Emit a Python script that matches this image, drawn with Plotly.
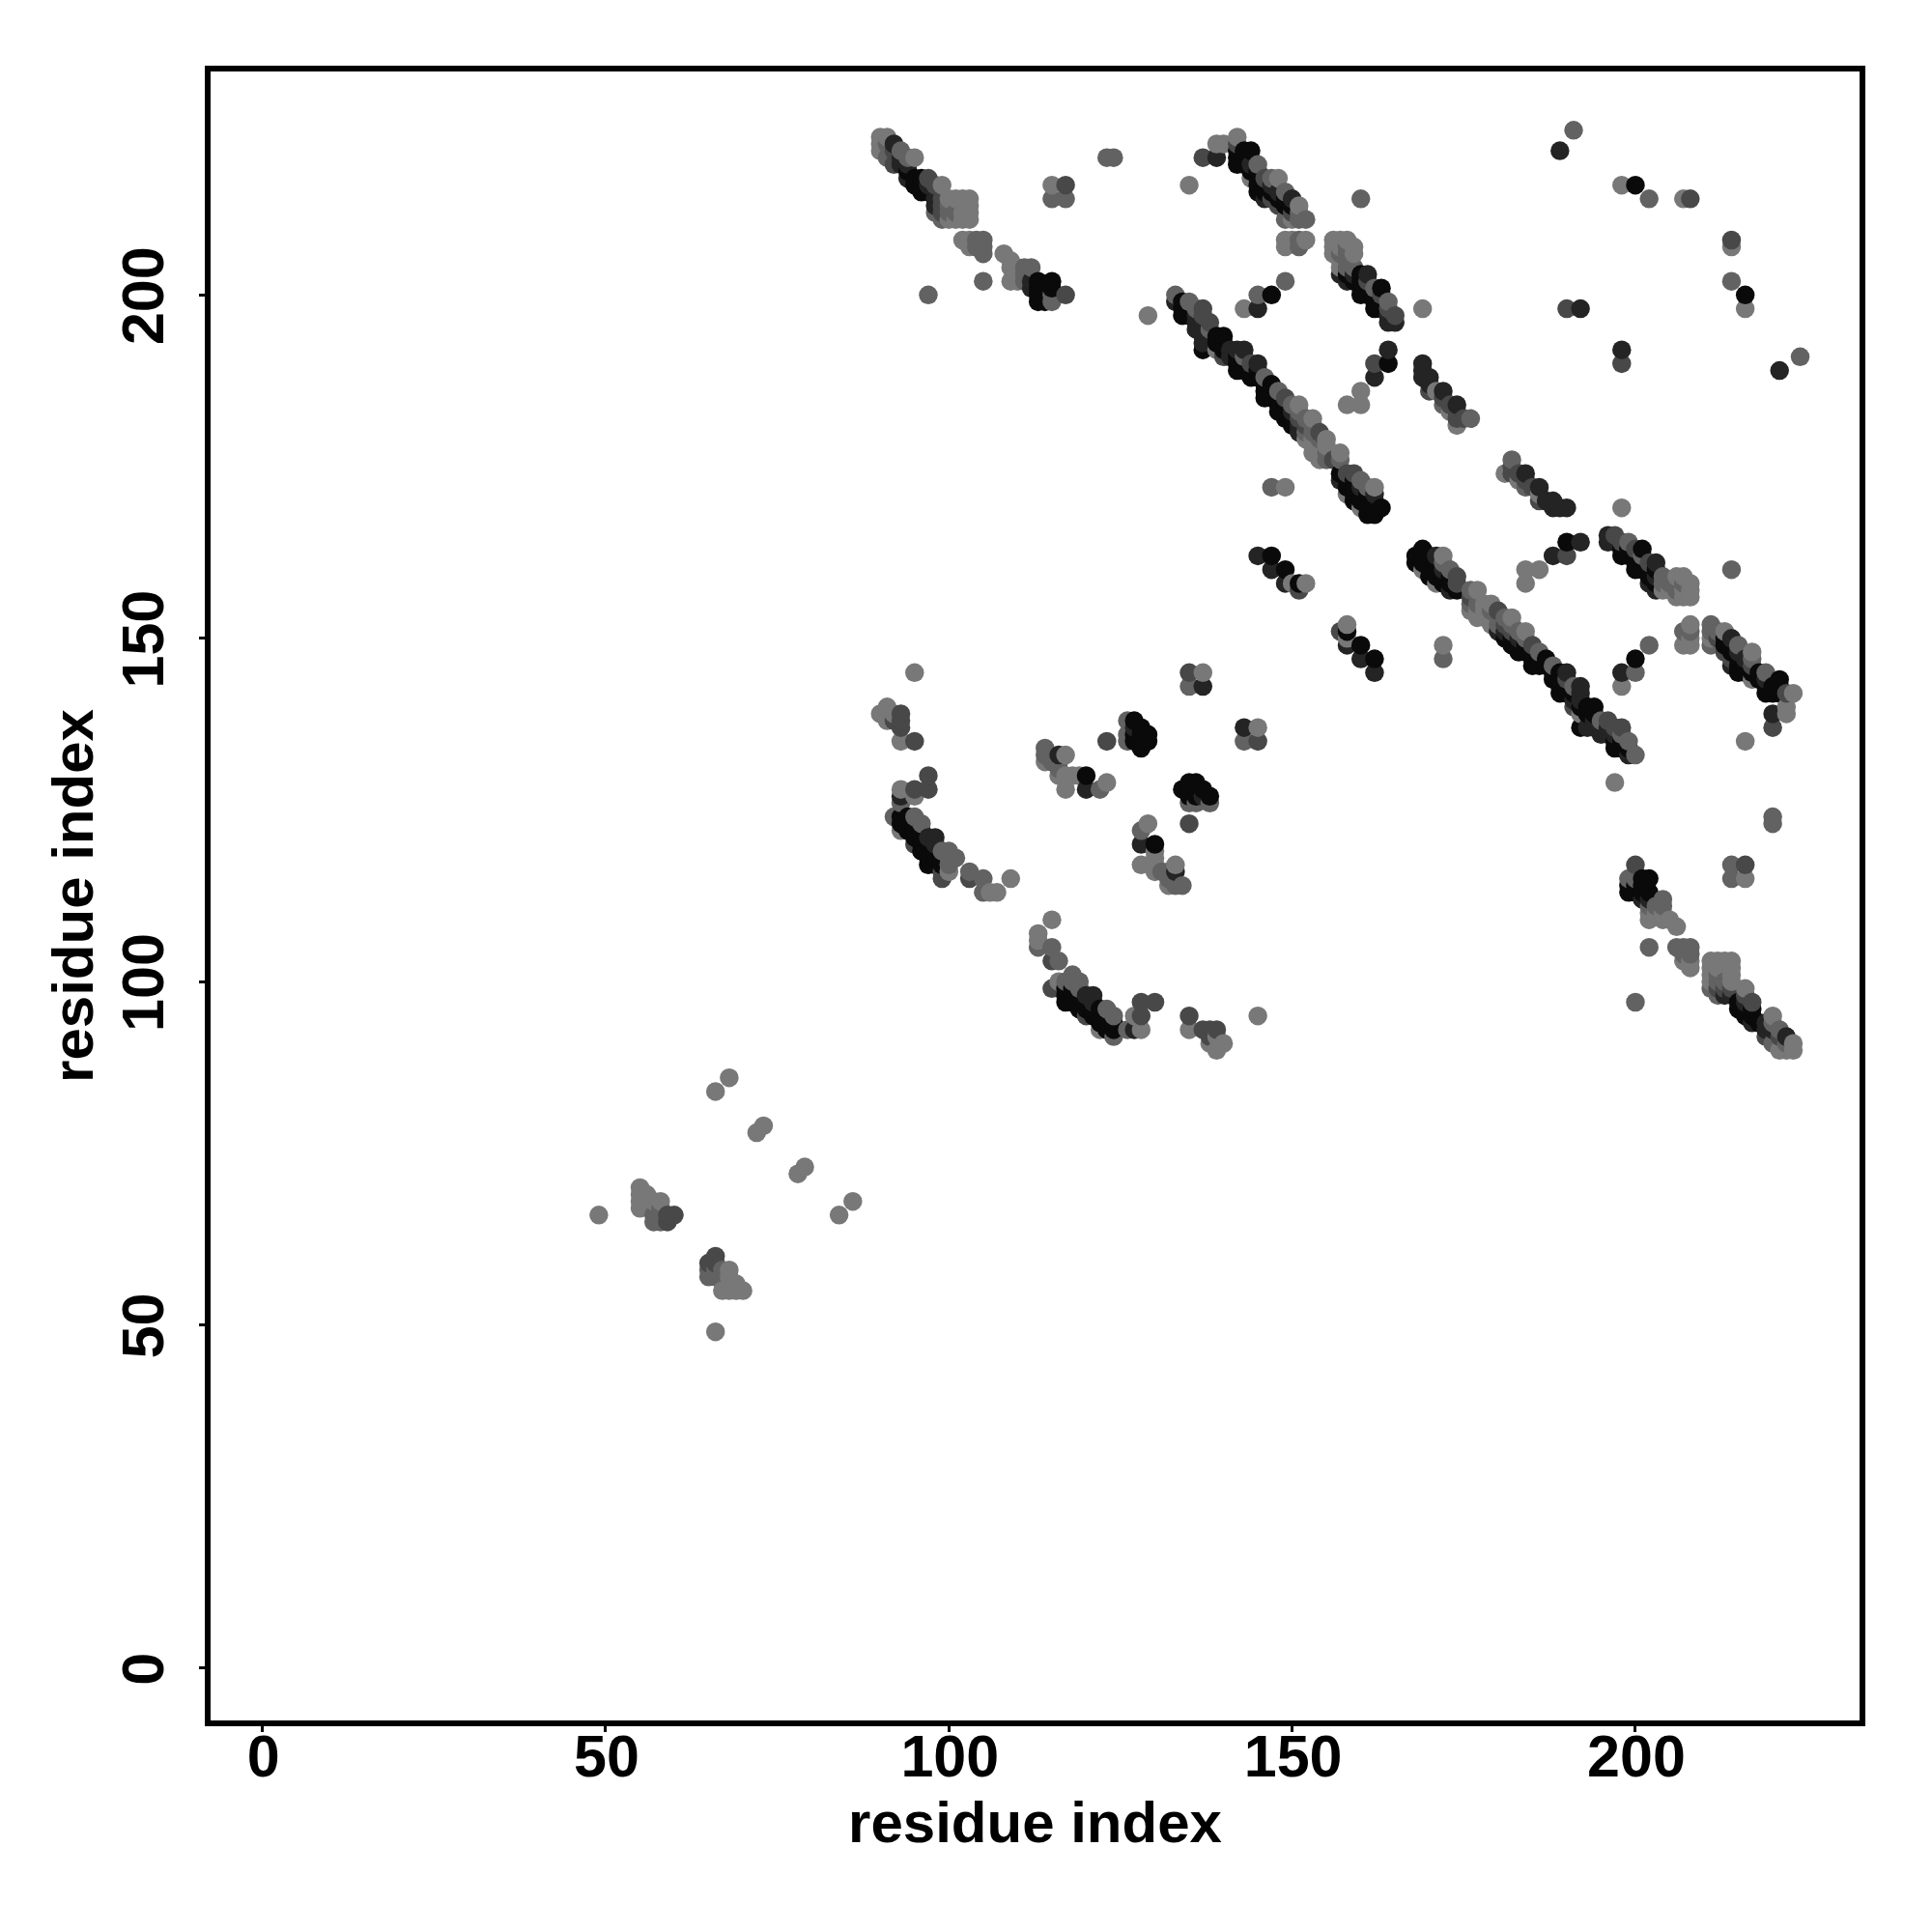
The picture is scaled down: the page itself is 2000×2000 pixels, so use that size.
import plotly.graph_objects as go

# grey levels (contact strength shown as darkness)
L, M, N, D, K = 120, 98, 72, 36, 10

cluster_low = [(49,66,L),(55,70,L),(55,69,L),(55,68,L),(55,67,L),(56,69,L),(57,68,L),(58,68,L),(58,67,M),
    (57,66,M),(57,65,M),(58,65,M),(59,65,N),(59,66,N),(60,66,N),(58,66,M)]
pairs_low = [(66,84,L),(68,86,L),(72,78,L),(73,79,L)]
streak_a = [(90,223,L),(91,223,L),(90,222,L),(90,221,L),(92,222,D),(91,222,M),(91,220,M),(92,219,N),(92,221,N),(93,221,M),
    (93,219,D),(94,220,M),(95,220,L),(94,219,D),(93,220,D),(94,218,K),(94,217,D),(95,217,K),(95,216,K),(96,215,K),(96,217,K),
    (96,216,K),(97,217,N),(97,216,D),(97,215,K),(98,216,N),(98,214,D),(98,213,D),(98,212,M),(99,216,L),(99,214,N),(99,213,N),
    (99,211,M),(99,212,N),(100,214,L),(100,213,M),(100,211,L),(100,212,M),(101,214,L),(101,211,L),(101,212,M),(102,214,L),
    (102,212,L),(102,211,L),(103,214,L),(103,213,L),(103,212,L),(103,211,L)]
streak_a2 = [(102,208,L),(103,208,L),(103,207,L),(104,208,M),(104,207,M),(105,208,M),(105,207,M),(105,206,M),
    (105,202,M),(97,200,M),(108,206,L),(109,205,L),(109,204,L),(110,204,L),(109,202,L),(110,202,L),(110,203,L),(111,204,M),(112,204,M),
    (111,203,M),(111,202,M),(112,201,D),(112,202,D),(113,202,K),(113,199,K),(113,201,K),(113,200,K),(114,199,K),(114,201,K),(114,200,K),
    (115,202,K),(115,201,K),(115,200,M),(115,199,M),(117,200,N)]
isolated_top = [(115,216,L),(117,216,N),(115,214,M),(117,214,M),(123,220,M),(124,220,M),(129,197,L),(135,216,L),
    (160,214,M),(189,221,D),(191,224,M),(198,216,L),(200,216,K),(202,214,M),(207,214,L),(208,214,N),(214,208,N),(214,207,L),
    (214,202,M),(216,200,K),(216,198,L),(190,198,N),(192,198,D),(198,192,D),(198,190,N),(221,189,D),(224,191,M),
    (169,198,L),(220,123,L),(220,124,L)]
streak_b = [(137,220,N),(139,220,D),(139,222,L),(140,222,L),(142,223,L),(142,222,N),(142,221,K),(142,220,K),(142,219,K),(143,221,K),
    (143,220,K),(143,219,K),(144,221,K),(144,219,D),(144,217,L),(144,218,K),(145,219,M),(145,218,K),(145,217,K),(145,216,K),(145,215,K),
    (146,217,N),(146,216,K),(146,215,K),(146,214,D),(147,217,M),(147,216,D),(147,215,K),(147,214,N),(148,217,L),(148,215,D),(148,214,K),
    (148,213,N),(149,215,M),(149,214,K),(149,213,K),(149,211,M),(150,214,D),(150,213,K),(150,212,N),(150,211,L),(151,213,L),(151,212,M),(151,211,M),(152,211,M),
    (149,208,L),(149,207,L),(150,208,L),(151,208,M),(151,207,M),(152,208,L)]
streak_c = [(156,208,L),(156,207,L),(156,206,L),(157,208,L),(157,207,L),(157,206,M),(157,205,L),(157,204,L),(157,203,D),(158,208,L),(158,207,M),
    (158,206,M),(158,205,M),(158,204,M),(158,203,K),(158,202,D),(159,207,L),(159,206,L),(159,204,M),(159,203,D),(159,202,K),(160,203,K),(160,202,K),
    (160,201,K),(160,200,K),(161,203,D),(161,202,N),(161,201,K),(161,200,K),(162,201,M),(162,200,K),(162,199,K),(162,198,K),(163,201,K),(163,200,N),
    (163,199,K),(163,198,K),(164,199,M),(164,198,N),(164,197,D),(164,196,D),(165,197,N),(165,196,D),(196,165,K)]
bridge_n = [(143,198,L),(145,198,D),(145,200,M),(147,200,K),(149,202,M)]
streak_d = [(133,200,M),(133,199,D),(134,199,K),(134,198,K),(134,197,K),(135,199,M),(135,198,K),(135,197,K),(136,198,M),(136,197,D),(136,196,D),(136,195,D),
    (137,198,N),(137,197,N),(137,196,D),(137,195,D),(137,194,D),(137,193,D),(137,192,K),(138,196,N),(138,195,M),(138,194,D),(139,194,K),(139,193,K),(139,192,L),
    (140,194,K),(140,193,K),(140,192,K),(140,191,N),(141,192,D),(141,191,D),(142,192,D),(142,191,K),(142,190,K),(142,189,K),(143,192,D),(143,191,M),(143,190,K),(143,189,K),
    (144,190,N),(144,189,K),(144,188,K),(145,190,D),(145,189,K),(145,188,K),(146,188,M),(146,187,K),(146,186,K),(146,185,K),(147,187,K),(147,186,K),(147,185,K),
    (148,186,M),(148,185,K),(148,184,K),(148,183,K),(149,185,N),(149,184,K),(149,183,K),(149,182,K),(150,184,M),(150,183,D),(150,182,K),(150,181,K),(151,184,L),(151,183,M),
    (151,182,N),(151,181,D),(151,180,D),(152,182,M),(152,181,N),(152,180,M),(152,179,L),(153,182,L),(153,181,M),(153,180,M),(153,179,L),(153,178,L),(153,177,L),
    (154,180,N),(154,179,M),(154,178,L),(154,177,L),(154,176,L),(155,179,L),(155,178,L),(155,177,M),(155,176,M),(156,176,N),(157,177,L),(157,176,M),
    (157,174,K),(157,173,D),(158,174,N),(158,173,K),(158,172,K),(158,171,L),(159,174,N),(159,173,K),(159,172,K),(159,171,K),(159,170,K),(160,173,M),(160,172,D),(160,171,K),
    (160,170,K),(160,169,L),(161,172,M),(161,171,K),(161,170,K),(161,169,K),(161,168,K),(162,172,L),(162,171,D),(162,170,K),(162,169,K),(162,168,K),(163,169,K)]
group_k = [(145,162,D),(147,162,K),(147,160,D),(149,160,K),(149,158,D),(150,158,L),(151,158,K),(151,157,N),(152,158,L),(147,172,M),(149,172,L)]
group_m = [(158,184,L),(160,184,L),(160,186,L),(162,188,D),(162,190,N),(164,190,K),(164,192,D)]
streak_e = [(169,190,D),(169,188,D),(169,189,D),(170,188,D),(170,187,D),(170,186,N),(171,186,L),(172,186,D),(172,185,N),(172,184,M),(173,184,N),(173,183,L),(174,184,D),
    (174,183,N),(174,182,N),(174,181,L),(175,182,N),(176,182,M),(172,149,L),(172,147,M)]
helix_j = [(90,139,L),(91,140,L),(91,138,L),(92,139,L),(92,138,N),(93,139,N),(93,138,N),(93,137,N),(93,135,L),(95,135,N),(95,145,L),
    (93,128,L),(95,128,N),(97,128,N),(97,130,N),(93,127,D),(95,127,L),(93,126,M),(92,124,M),(93,124,K),(93,123,K),(94,124,K),(94,123,K),(93,122,L),(94,122,K),
    (95,124,M),(95,123,K),(95,122,K),(95,121,K),(95,120,N),(96,123,M),(96,122,K),(96,121,K),(96,120,K),(96,119,K),(97,121,D),(97,120,K),(97,119,K),(97,118,K),(97,117,K),
    (98,121,D),(98,120,D),(98,119,K),(98,118,K),(98,117,K),(99,119,M),(99,118,K),(99,117,K),(99,116,N),(99,115,N),(100,119,M),(100,118,M),(100,117,M),(100,116,L),
    (101,118,M),(103,116,M),(103,115,N),(105,115,M),(105,113,M),(106,113,L),(107,113,L),(109,115,L)]
group_p = [(114,134,M),(114,133,M),(114,132,L),(115,132,M),(116,133,D),(116,132,M),(116,131,M),(116,130,L),(117,133,L),(117,130,L),(117,128,L),(118,130,L),(119,130,L),
    (120,130,K),(120,128,D),(122,128,M),(123,129,L),(123,135,N),(126,138,M),(127,138,K),(126,135,M),(126,136,M),(127,135,K),(127,136,K),(127,137,D),(128,134,K),(128,135,K),(128,136,K),(128,137,K),
    (129,136,K),(129,135,K),(135,145,N),(137,145,L),(135,143,M),(137,143,D),(134,128,K),(135,129,D),(136,129,K),(135,127,D),(136,127,K),(135,128,K),(136,128,K),(138,127,D),
    (135,126,M),(136,126,M),(138,126,N),(135,123,N),(129,123,L),(128,122,L),(128,120,D),(130,120,K),(128,117,L),(130,118,L),(130,117,M),(130,116,M),(131,116,L),(133,117,M),
    (133,116,D),(132,114,L),(133,114,M),(134,114,N)]
helix_q = [(115,105,N)]

streaks = [cluster_low, pairs_low, streak_a, streak_a2, isolated_top, streak_b, streak_c, bridge_n,
           streak_d, group_k, group_m, streak_e, helix_j, group_p, helix_q]

tick_values = [0, 50, 100, 150, 200]
axis_title = "residue index"

seen = {}
for streak in streaks:
    for i, j, grey in streak:
        seen.setdefault((i, j), grey)
        seen.setdefault((j, i), grey)
ordered = sorted(seen)
xs = [p[0] for p in ordered]
ys = [p[1] for p in ordered]
greys = [seen[p] for p in ordered]

fig = go.Figure(go.Scatter(
    x=xs, y=ys, mode="markers", cliponaxis=False,
    marker=dict(size=19.5, color=greys, cmin=0, cmax=255, showscale=False,
                colorscale=[[0, "rgb(0,0,0)"], [1, "rgb(255,255,255)"]], line=dict(width=0)),
))
tick_font = dict(family="Liberation Sans", size=61, color="black", weight="bold")
title_font = dict(family="Liberation Sans", size=60, color="black", weight="bold")
axis = dict(tickvals=tick_values, showgrid=False, zeroline=False,
            showline=True, mirror=True, linecolor="black", linewidth=6, ticks="outside",
            ticklen=6, tickwidth=3, tickcolor="black", tickfont=tick_font)
fig.update_layout(
    width=2000, height=2000, autosize=False, plot_bgcolor="white", paper_bgcolor="white",
    showlegend=False, margin=dict(l=210, r=83, t=66, b=227, pad=0),
    xaxis=dict(**axis, range=[-7.55, 232.65], ticklabelstandoff=-27, ticklabelshift=1,
               title=dict(text=axis_title, font=title_font, standoff=16)),
    yaxis=dict(**axis, range=[-7.6, 232.55], ticklabelstandoff=13, ticklabelshift=10, tickangle=-90,
               title=dict(text=axis_title, font=title_font, standoff=0)),
)
fig.write_html("out.html")
